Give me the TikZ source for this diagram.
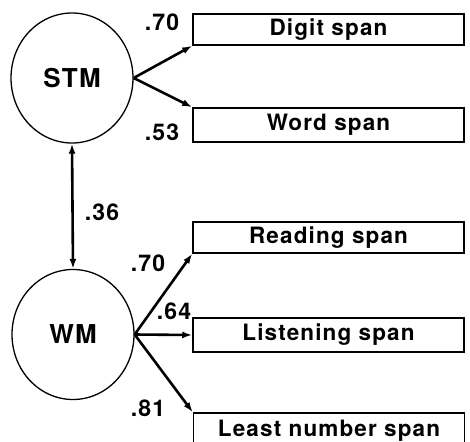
\documentclass[tikz,border=0pt]{standalone}
\usepackage{fontspec}
\setmainfont{TeX Gyre Heros}[LetterSpace=5]
\usetikzlibrary{shapes.geometric,arrows.meta}
\begin{document}
\begin{tikzpicture}[x=1pt,y=-1pt,
  latent/.style={draw, ellipse, line width=1.3pt, minimum width=122pt, minimum height=130pt, inner sep=0pt, font=\fontsize{26}{30}\selectfont\bfseries},
  obs/.style={draw, rectangle, line width=1.5pt, minimum width=271pt, inner sep=0pt, font=\fontsize{22.5}{26}\selectfont\bfseries},
  path/.style={line width=2.6pt, -{Latex[length=10pt,width=7pt]}},
  coef/.style={font=\fontsize{23}{26}\selectfont\bfseries, inner sep=0pt}]
\clip (0,0) rectangle (470,441);
\useasboundingbox (0,0) rectangle (470,441);
\node[latent] (stm) at (72,78) {STM};
\node[latent] (wm) at (73,334.5) {WM};
\node[obs, minimum height=31pt] (digit) at (328.5,29.5) {Digit span};
\node[obs, minimum height=34pt] (word) at (328.5,125) {Word span};
\node[obs, minimum height=31pt] (reading) at (328.5,237.5) {Reading span};
\node[obs, minimum height=34pt] (listen) at (328.5,335) {Listening span};
\node[obs, minimum height=36pt] (least) at (329,431) {};
\node[font=\fontsize{22.5}{26}\selectfont\bfseries] (leasttxt) at (329,431) {Least number span};
\draw[path] (stm.east) -- (digit.south west);
\draw[path] (stm.east) -- (word.north west);
\draw[line width=2.6pt, {Latex[length=10pt,width=7pt]}-{Latex[length=10pt,width=7pt]}] (stm.south) -- (wm.north);
\draw[path] (wm.east) -- (reading.south west);
\draw[path] (wm.east) -- (listen.west);
\draw[path] (wm.east) -- (least.north west);
\node[coef] (c1) at (162,22) {.70};
\node[coef] (c2) at (162,132) {.53};
\node[coef] (c3) at (102,212) {.36};
\node[coef] (c4) at (148,263) {.70};
\node[coef] (c5) at (174,311) {.64};
\node[coef] (c6) at (148,408) {.81};
\end{tikzpicture}
\end{document}
